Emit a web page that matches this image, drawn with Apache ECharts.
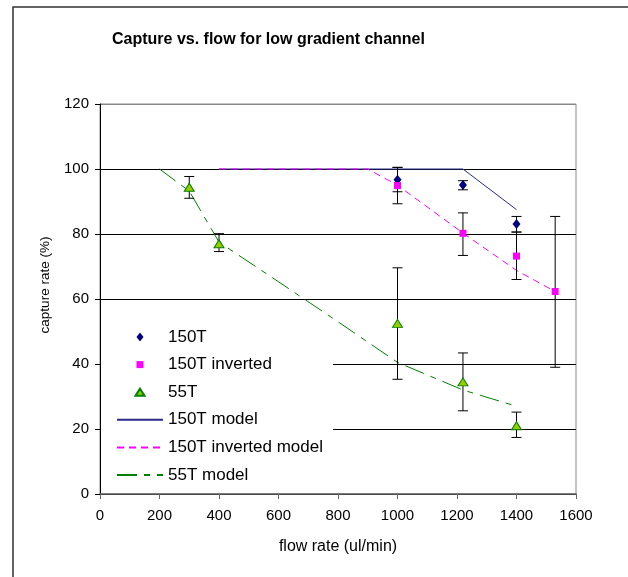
<!DOCTYPE html>
<html lang="en">
<head>
    <meta charset="UTF-8">
    <title>Capture vs. flow</title>
    <script src="https://cdn.jsdelivr.net/npm/echarts@6/dist/echarts.min.js"></script>
    <style>
        html, body { margin: 0; padding: 0; background: #fff; }
        #main { width: 628px; height: 577px; }
    </style>
</head>
<body>
<div id="main"></div>
<script type="text/javascript">
    // measured points: [flow, capture]
    var t150 = [[1000, 96.7], [1220, 95.1], [1400, 83.1]];
    var t150Inv = [[1000, 94.9], [1220, 80.2], [1400, 73.2], [1530, 62.3]];
    var t55 = [[300, 94.4], [400, 77.0], [1000, 52.5], [1220, 34.5], [1400, 21.0]];

    // error bars: [flow, low, high]
    var t150Err = [[1000, 93.0, 100.5], [1220, 93.6, 96.4], [1400, 80.6, 85.4]];
    var t150InvErr = [[1000, 89.3, 100.5], [1220, 73.4, 86.5], [1400, 66.0, 80.6], [1530, 39.0, 85.4]];
    var t55Err = [[300, 91.0, 97.7], [400, 74.6, 80.1], [1000, 35.3, 69.6], [1220, 25.6, 43.4], [1400, 17.4, 25.2]];

    // models
    var t150Model = [[400, 100], [1220, 100], [1400, 87.5]];
    var t150InvModel = [[400, 100], [900, 100], [1000, 95], [1220, 80.3], [1400, 68.8], [1530, 62.3]];
    var t55Model = [[200, 100], [300, 93.2], [400, 77.5], [600, 65.3], [800, 53], [1000, 40.5], [1220, 32], [1400, 27]];

    var fontFamily = '"Liberation Sans", Arial, sans-serif';

    // legend icons drawn inside a 46x10 box so they keep their size
    var box = 'M0,0M46,10';
    var iconDiamond = 'path://' + box + 'M23,0.5L26.5,5L23,9.5L19.5,5Z';
    var iconSquare = 'path://' + box + 'M19.5,1.5L26.5,1.5L26.5,8.5L19.5,8.5Z';
    var iconTriangle = 'path://' + box + 'M23,1.5L27.5,8.5L18.5,8.5Z';

    function errorBar(params, api) {
        var x = api.value(0);
        var lo = api.coord([x, api.value(1)]);
        var hi = api.coord([x, api.value(2)]);
        var cap = 5;
        var st = { stroke: '#000', lineWidth: 1 };
        return {
            type: 'group',
            children: [
                { type: 'line', shape: { x1: lo[0], y1: lo[1], x2: hi[0], y2: hi[1] }, style: st },
                { type: 'line', shape: { x1: lo[0] - cap, y1: lo[1], x2: lo[0] + cap, y2: lo[1] }, style: st },
                { type: 'line', shape: { x1: hi[0] - cap, y1: hi[1], x2: hi[0] + cap, y2: hi[1] }, style: st }
            ]
        };
    }

    var myChart = echarts.init(document.getElementById('main'));
    var option = {
        animation: false,
        backgroundColor: '#fff',
        textStyle: { fontFamily: fontFamily },
        title: {
            text: 'Capture vs. flow for low gradient channel',
            left: 112,
            top: 32,
            padding: 0,
            textStyle: { fontSize: 16, fontWeight: 'bold', color: '#000', fontFamily: fontFamily }
        },
        graphic: [{
            type: 'rect',
            shape: { x: 13, y: 7, width: 700, height: 700 },
            style: { fill: 'none', stroke: '#333', lineWidth: 1.5 },
            silent: true
        }],
        legend: {
            orient: 'vertical',
            left: 101,
            top: 320,
            padding: [8, 10, 8, 15],
            backgroundColor: '#fff',
            itemWidth: 46,
            itemHeight: 10,
            itemGap: 9.6,
            textStyle: { fontSize: 17, lineHeight: 18, color: '#000', fontFamily: fontFamily },
            data: [
                { name: '150T', icon: iconDiamond },
                { name: '150T inverted', icon: iconSquare },
                { name: '55T', icon: iconTriangle },
                { name: '150T model', itemStyle: { opacity: 0 } },
                { name: '150T inverted model', itemStyle: { opacity: 0 } },
                { name: '55T model', itemStyle: { opacity: 0 } }
            ]
        },
        grid: {
            left: 100,
            right: 52,
            top: 104,
            bottom: 83,
            show: true,
            borderColor: '#888',
            borderWidth: 1
        },
        xAxis: {
            type: 'value',
            min: 0,
            max: 1600,
            interval: 200,
            name: 'flow rate (ul/min)',
            nameLocation: 'middle',
            nameGap: 45,
            nameTextStyle: { fontSize: 16, color: '#000' },
            axisLine: { lineStyle: { color: '#666', width: 1.5 } },
            axisTick: { inside: false, length: 5, lineStyle: { color: '#666' } },
            axisLabel: { fontSize: 15, color: '#000', margin: 14, formatter: function (v) { return String(v); } },
            splitLine: { show: false }
        },
        yAxis: {
            type: 'value',
            min: 0,
            max: 120,
            interval: 20,
            name: 'capture rate (%)',
            nameLocation: 'middle',
            nameGap: 48,
            nameTextStyle: { fontSize: 13.5, color: '#000', padding: [0, 0, 0, 28] },
            axisLine: { lineStyle: { color: '#000' } },
            axisTick: { inside: false, length: 5, lineStyle: { color: '#000' } },
            axisLabel: { fontSize: 15, color: '#000', margin: 11 },
            splitLine: {
                show: true,
                lineStyle: { color: ['#000', '#000', '#000', '#000', '#000', '#000', '#888'], width: 1 }
            }
        },
        series: [
            {
                name: '150T model',
                type: 'line',
                data: t150Model,
                symbol: 'none',
                z: 2,
                lineStyle: { color: '#2a2a8c', width: 1, type: 'solid' },
                itemStyle: { color: '#2a2a8c' }
            },
            {
                name: '150T inverted model',
                type: 'line',
                data: t150InvModel,
                symbol: 'none',
                z: 2,
                lineStyle: { color: '#ff00ff', width: 1, type: [7, 5] },
                itemStyle: { color: '#ff00ff' }
            },
            {
                name: '55T model',
                type: 'line',
                data: t55Model,
                symbol: 'none',
                z: 2,
                lineStyle: { color: '#008000', width: 1, type: [20, 7, 6, 7] },
                itemStyle: { color: '#008000' }
            },
            { type: 'custom', renderItem: errorBar, data: t150Err, encode: { x: 0, y: [1, 2] }, z: 3 },
            { type: 'custom', renderItem: errorBar, data: t150InvErr, encode: { x: 0, y: [1, 2] }, z: 3 },
            { type: 'custom', renderItem: errorBar, data: t55Err, encode: { x: 0, y: [1, 2] }, z: 3 },
            {
                name: '150T',
                type: 'scatter',
                data: t150,
                symbol: 'diamond',
                symbolSize: [8, 10],
                z: 4,
                itemStyle: { color: '#000080', opacity: 1 }
            },
            {
                name: '150T inverted',
                type: 'scatter',
                data: t150Inv,
                symbol: 'rect',
                symbolSize: 7,
                z: 4,
                itemStyle: { color: '#ff00ff', opacity: 1 }
            },
            {
                name: '55T',
                type: 'scatter',
                data: t55,
                symbol: 'triangle',
                symbolSize: [10, 8],
                z: 4,
                itemStyle: { color: '#99cc00', borderColor: '#008000', borderWidth: 1, opacity: 1 }
            }
        ]
    };
    myChart.setOption(option);
</script>
</body>
</html>
